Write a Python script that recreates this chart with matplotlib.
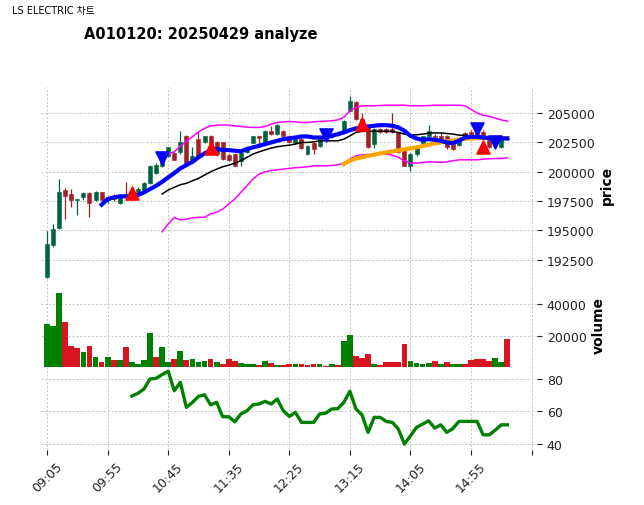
import numpy as np
import pandas as pd
import matplotlib
matplotlib.use('Agg')
import matplotlib.pyplot as plt
from matplotlib.patches import Rectangle

## Data (5-minute bars, 09:05 ~ 15:25)
opens = [191000, 193750, 195200, 198450, 198050, 197600, 197800, 198200, 197550, 198250,
         197600, 197950, 197300, 198050, 198000, 198250, 198450, 199000, 199900, 200500,
         201350, 201550, 201650, 203050, 200950, 202800, 202500, 203050, 202500, 202500,
         201400, 201500, 200900, 201650, 202450, 203050, 202500, 203450, 203200, 203450,
         203000, 202450, 202800, 201500, 202450, 202200, 202900, 203100, 203200, 203470,
         205150, 205950, 204450, 203750, 202350, 203600, 203600, 203600, 203350, 201900,
         200500, 201500, 202450, 203050, 203050, 203050, 203050, 202450, 202300, 203300,
         203400, 203300, 203400, 202900, 202300, 202050, 202800]
highs = [194950, 195550, 199350, 198600, 198500, 197700, 198250, 198250, 198350, 198300,
         197950, 198100, 198050, 199100, 198300, 198650, 199100, 200550, 200750, 201400,
         202100, 201650, 203450, 203100, 202050, 203330, 203050, 203100, 202600, 202550,
         201500, 201600, 201700, 202150, 203050, 203050, 203550, 203900, 204050, 203550,
         203100, 202900, 202900, 202250, 202550, 202800, 203100, 203300, 203300, 204350,
         206450, 206050, 205000, 203800, 203700, 203700, 203700, 204950, 203400, 202000,
         201550, 202100, 203050, 203950, 203200, 203300, 203100, 202550, 202700, 203400,
         203500, 203500, 203500, 203000, 202650, 202850, 202900]
lows = [190900, 193600, 195100, 195950, 196950, 196300, 197600, 196100, 197500, 197550,
        197350, 197500, 197200, 197800, 197800, 198150, 198400, 198900, 199800, 200400,
        201200, 200950, 201500, 200500, 200900, 201210, 202400, 201500, 201300, 200950,
        200900, 200450, 200450, 201550, 202400, 202200, 202450, 203100, 203100, 202950,
        202400, 202350, 201900, 201450, 201500, 202100, 202700, 202900, 203000, 203400,
        205100, 204400, 203800, 202000, 202000, 203250, 203250, 203300, 201600, 200450,
        200050, 201350, 202300, 202950, 202900, 202700, 201950, 201850, 202200, 203000,
        203100, 202800, 202700, 202000, 202200, 202000, 202650]
closes = [193850, 195150, 198300, 197900, 197600, 197700, 198200, 197300, 198300, 197600,
          197850, 197650, 198000, 197900, 197900, 198550, 199050, 200500, 200550, 201350,
          202050, 201000, 202500, 200550, 201350, 201350, 203000, 201550, 201500, 201050,
          201000, 200500, 201600, 202050, 203000, 202900, 203450, 203200, 204000, 203050,
          202500, 202800, 202000, 202200, 201950, 202750, 202800, 203050, 203150, 204320,
          206000, 204450, 203900, 202050, 203600, 203350, 203350, 203350, 201650, 200500,
          201500, 202050, 203000, 203450, 202950, 202750, 202050, 201950, 202600, 203100,
          203200, 202900, 202800, 202050, 202600, 202750, 202750]
volumes = [27300, 26000, 46900, 28800, 13300, 12000, 9250, 13300, 6200, 3200,
           6200, 4300, 4300, 12700, 3200, 1700, 4500, 21500, 6200, 12700,
           3200, 4900, 10300, 4300, 4900, 3200, 3900, 4900, 3200, 1700,
           4900, 4100, 2800, 2150, 2150, 1100, 3900, 2600, 1100, 1100,
           1700, 1700, 2150, 1300, 2150, 2150, 430, 2150, 1300, 16600,
           20200, 6900, 5600, 8000, 1700, 1100, 3400, 3400, 3000, 14400,
           3900, 2400, 1700, 2800, 3900, 1700, 3400, 1700, 2150, 1700,
           4500, 4900, 4900, 3900, 5600, 3400, 17800]
vol_up = [1, 1, 1, 0, 0, 0, 1, 0, 1, 0, 1, 0, 1, 0, 1, 1, 1, 1, 0, 1,
          1, 0, 1, 0, 1, 1, 1, 0, 1, 0, 0, 0, 1, 1, 1, 0, 1, 0, 1, 0,
          0, 1, 0, 0, 0, 1, 0, 1, 0, 1, 1, 0, 0, 0, 1, 0, 0, 0, 0, 0,
          1, 1, 1, 1, 0, 1, 0, 1, 1, 0, 0, 0, 0, 0, 1, 1, 0]

# moving averages / bands (start index, values)
ma_fast_start = 9
ma_fast = [197180, 197660, 197800, 197890, 197890, 197940, 198000, 198230, 198510, 198790,
           199130, 199510, 199870, 200270, 200550, 200830, 201210, 201550, 201830, 201910,
           201850, 201830, 201770, 201720, 201910, 202060, 202190, 202340, 202480, 202620,
           202760, 202820, 202900, 202990, 202990, 202900, 202900, 202900, 203040, 203190,
           203330, 203530, 203670, 203760, 203840, 203900, 203950, 203950, 203900, 203760,
           203470, 203040, 202820, 202700, 202760, 202700, 202620, 202480, 202420, 202620,
           202900, 202960, 202960, 202900, 202850, 202850, 202820, 202820]
ma_mid_start = 19
ma_mid = [198090, 198430, 198660, 198880, 199000, 199220, 199420, 199700, 199980, 200210,
          200410, 200550, 200720, 200920, 201210, 201490, 201680, 201850, 202000, 202110,
          202190, 202250, 202340, 202480, 202480, 202530, 202620, 202620, 202620, 202620,
          202760, 203040, 203330, 203420, 203420, 203440, 203440, 203440, 203420, 203330,
          203190, 203100, 203130, 203190, 203270, 203290, 203290, 203240, 203190, 203100,
          203100, 203040, 202990, 202960, 202900, 202850, 202790, 202760]
bb_upper = [201340, 201490, 201680, 202140, 202620, 202960, 203380, 203670, 203890, 203950,
            203970, 203950, 203890, 203840, 203780, 203760, 203760, 203840, 204040, 204180,
            204230, 204270, 204230, 204180, 204180, 204230, 204270, 204290, 204320, 204400,
            204610, 205170, 205460, 205600, 205600, 205600, 205620, 205650, 205650, 205650,
            205650, 205600, 205600, 205600, 205620, 205650, 205650, 205650, 205650, 205650,
            205600, 205310, 204970, 204800, 204690, 204550, 204400, 204290]
bb_lower = [194880, 195540, 196100, 195880, 195960, 196050, 196110, 196110, 196390, 196530,
            196810, 197240, 197660, 198230, 198790, 199360, 199790, 199980, 200070, 200150,
            200210, 200270, 200330, 200360, 200410, 200490, 200490, 200490, 200520, 200580,
            200720, 201060, 201340, 201430, 201450, 201450, 201490, 201490, 201400, 201210,
            200920, 200720, 200720, 200780, 200820, 200820, 200780, 200820, 200920, 201000,
            201000, 201000, 201000, 201060, 201090, 201110, 201110, 201170]
ma_slow_start = 49
ma_slow = [200640, 200920, 201120, 201210, 201340, 201430, 201550, 201630, 201720, 201800,
           201890, 201970, 202060, 202170, 202280, 202400, 202480, 202570, 202650, 202740,
           202790, 202820, 202850, 202850, 202850, 202850, 202850, 202850]
rsi_start = 14
rsi = [69.4, 71.1, 73.8, 80, 80.4, 82.7, 84.8, 72.7, 77.9, 62.4,
       65.5, 69.2, 70.2, 64, 65.5, 56.6, 56.6, 53.5, 58.3, 60.3,
       64, 64.5, 66.1, 64.5, 67.6, 60.3, 56.8, 59.3, 53.1, 53.1,
       53.1, 58.3, 58.8, 61.4, 61.6, 65.5, 72.4, 61.4, 57.8, 46.9,
       56.2, 56.2, 53.7, 53.1, 49, 39.6, 44.8, 50, 52, 54.1,
       49.6, 51.6, 46.9, 49.3, 53.7, 53.7, 53.7, 53.7, 45.4, 45.4,
       48.3, 51.6, 51.6]

buy_idx = [14, 27, 52, 72]
buy_price = [198170, 202000, 204040, 202080]
sell_idx = [19, 46, 71, 74]
sell_price = [201150, 203100, 203600, 202500]

times = pd.date_range('2025-04-29 09:05', periods=len(closes), freq='5min')

## Plot
up_c, down_c = '#006340', '#a02128'
vol_up_c, vol_down_c = '#008000', '#d7141f'
grid_kw = dict(linestyle=(0, (2, 2)), color='#c4c4c4', linewidth=0.7)

fig = plt.figure(figsize=(6.44, 5.06), dpi=100)
L, W = 0.0637, 0.7702
ax1 = fig.add_axes([L, 0.4407, W, 0.3854])
ax2 = fig.add_axes([L, 0.2727, W, 0.1680], sharex=ax1)
ax3 = fig.add_axes([L, 0.1087, W, 0.1640], sharex=ax1)

x = np.arange(len(closes))

# candles
for i in x:
    o, h, l, c = opens[i], highs[i], lows[i], closes[i]
    col = up_c if c >= o else down_c
    ax1.vlines(i, l, h, color=col, linewidth=0.9, zorder=2)
    ax1.add_patch(Rectangle((i - 0.33, min(o, c)), 0.66, max(abs(c - o), 20),
                            facecolor=col, edgecolor=col, linewidth=0.4, zorder=3))

def line(ax, start, vals, **kw):
    ax.plot(np.arange(start, start + len(vals)), vals, **kw)

line(ax1, ma_mid_start, bb_upper, color='magenta', linewidth=1.1, zorder=4)
line(ax1, ma_mid_start, bb_lower, color='magenta', linewidth=1.1, zorder=4)
line(ax1, ma_mid_start, ma_mid, color='black', linewidth=1.1, zorder=4)
line(ax1, ma_slow_start, ma_slow, color='orange', linewidth=3, zorder=5)
line(ax1, ma_fast_start, ma_fast, color='blue', linewidth=3, zorder=5)
ax1.scatter(buy_idx, buy_price, marker='^', s=90, color='red', zorder=6)
ax1.scatter(sell_idx, sell_price, marker='v', s=90, color='blue', zorder=6)

ax1.set_ylim(190600, 207200)
ax1.set_yticks(np.arange(192500, 205001, 2500))
ax1.set_ylabel('price', fontsize=10, fontweight='bold')

# volume
vcols = [vol_up_c if u else vol_down_c for u in vol_up]
ax2.bar(x, volumes, width=0.95, color=vcols, linewidth=0)
ax2.set_ylim(0, 54000)
ax2.set_yticks([20000, 40000])
ax2.set_ylabel('volume', fontsize=10, fontweight='bold')

# rsi
line(ax3, rsi_start, rsi, color='green', linewidth=2.4)
ax3.set_ylim(36, 87.4)
ax3.set_yticks([40, 60, 80])

ticks = np.arange(0, 81, 10)
labels = [times[t].strftime('%H:%M') if t < len(times) else '' for t in ticks]
ax3.set_xticks(ticks)
ax3.set_xticklabels(labels, rotation=45, fontsize=9)
ax1.set_xlim(-1, 80.9)

for ax in (ax1, ax2, ax3):
    for s in ax.spines.values():
        s.set_visible(False)
    ax.grid(True, **grid_kw)
    ax.set_axisbelow(True)
    ax.yaxis.tick_right()
    ax.yaxis.set_label_position('right')
    ax.tick_params(axis='y', labelsize=9, length=3.5, colors='#222222')
    ax.tick_params(axis='x', length=3.5, colors='#222222')
for ax in (ax1, ax2):
    ax.tick_params(axis='x', bottom=False, labelbottom=False)

fig.text(0.018, 0.978, 'LS ELECTRIC 차트', fontsize=7, va='center',
         family=['DejaVu Sans', 'Noto Sans CJK KR'])
fig.text(0.312, 0.931, 'A010120: 20250429 analyze', fontsize=10.5, fontweight='bold',
         ha='center', va='center')

fig.savefig('out.png', dpi=100)
